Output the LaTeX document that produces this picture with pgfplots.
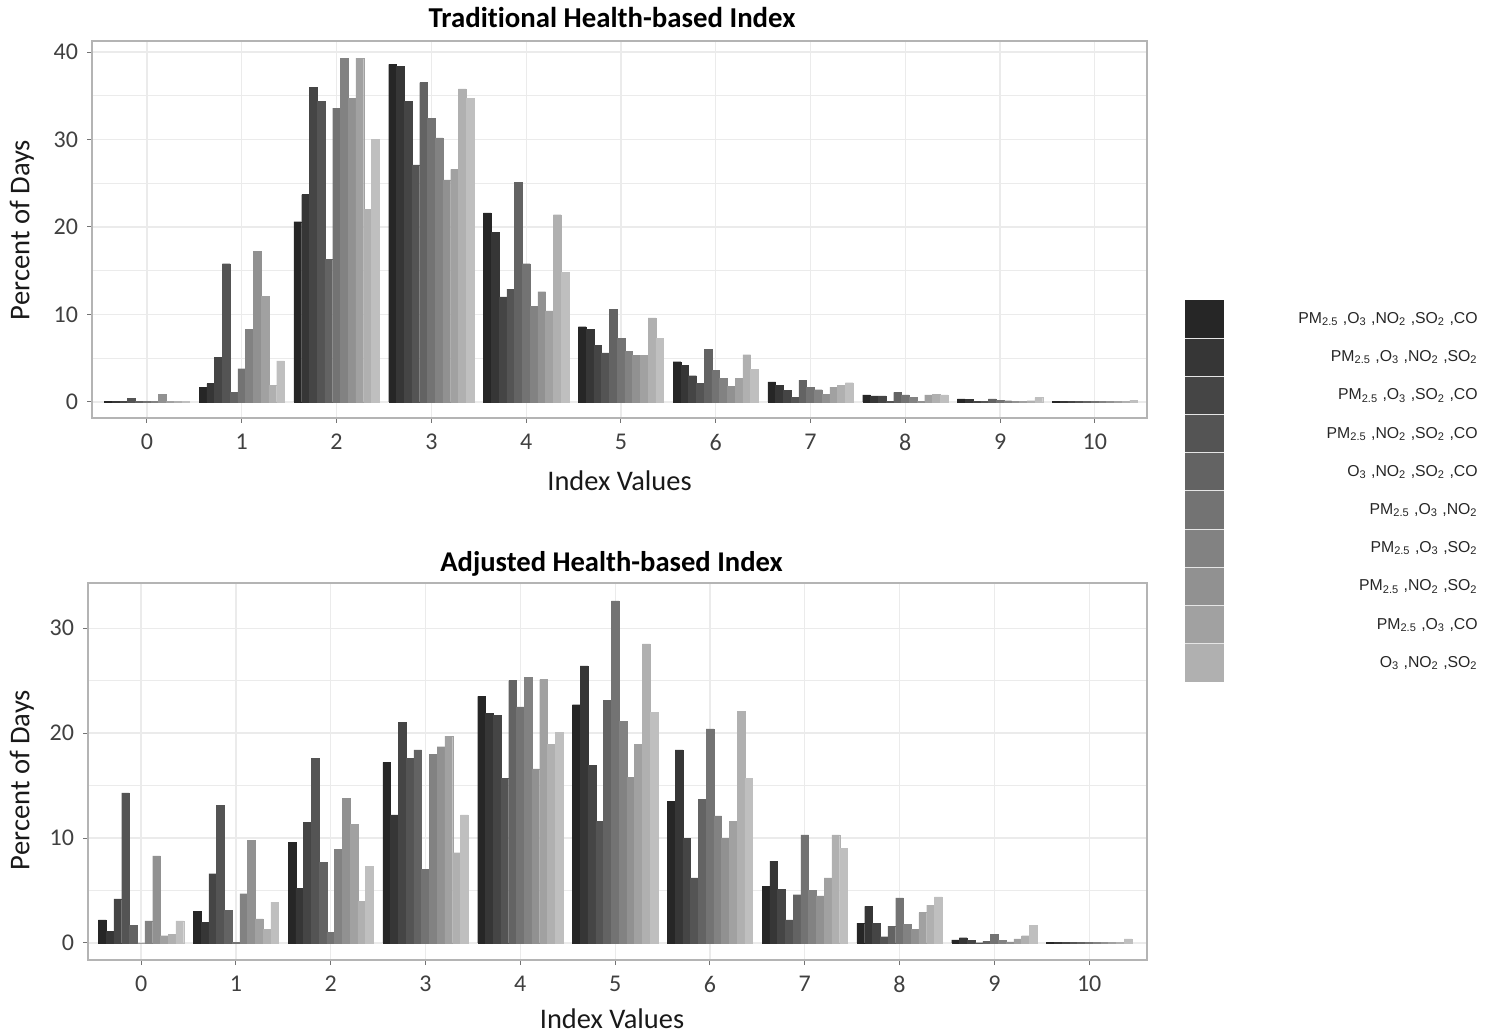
\documentclass[border=0pt]{standalone}
\usepackage{pgfplots}
\pgfplotsset{compat=1.18}
\usepackage{pgfplotstable}
\usepackage{fontspec}
\setmainfont{Carlito}[Ligatures={NoCommon}]
\newfontfamily\arial{Liberation Sans}

\definecolor{c0}{gray}{0.15}
\definecolor{c1}{gray}{0.21}
\definecolor{c2}{gray}{0.27}
\definecolor{c3}{gray}{0.33}
\definecolor{c4}{gray}{0.39}
\definecolor{c5}{gray}{0.45}
\definecolor{c6}{gray}{0.51}
\definecolor{c7}{gray}{0.57}
\definecolor{c8}{gray}{0.63}
\definecolor{c9}{gray}{0.69}
\definecolor{c10}{gray}{0.75}
\definecolor{gridc}{RGB}{235,235,235}
\definecolor{framec}{RGB}{180,180,180}

\pgfplotstableread{
idx b0 b1 b2 b3 b4 b5 b6 b7 b8 b9 b10
0 0.1 0.1 0.1 0.4 0.1 0.1 0.1 0.9 0.1 0.1 0.1
1 1.7 2.1 5.1 15.8 1.1 3.8 8.3 17.2 12.1 1.9 4.7
2 20.6 23.7 36.0 34.4 16.3 33.6 39.3 34.7 39.3 22.0 30.0
3 38.6 38.4 34.4 27.1 36.5 32.4 30.2 25.4 26.6 35.8 34.7
4 21.6 19.4 12.0 12.9 25.1 15.8 10.9 12.6 10.4 21.4 14.8
5 8.6 8.3 6.5 5.6 10.6 7.3 5.8 5.3 5.3 9.6 7.3
6 4.6 4.2 3.0 2.1 6.0 3.6 2.7 1.8 2.7 5.4 3.7
7 2.3 1.9 1.3 0.5 2.5 1.7 1.4 0.9 1.7 1.9 2.2
8 0.8 0.7 0.7 0.1 1.1 0.8 0.5 0.05 0.8 0.9 0.8
9 0.35 0.3 0.05 0.1 0.35 0.2 0.15 0.05 0.05 0.15 0.5
10 0.1 0.1 0.1 0.1 0.1 0.05 0.05 0.05 0.05 0.05 0.2
}\topdata

\pgfplotstableread{
idx b0 b1 b2 b3 b4 b5 b6 b7 b8 b9 b10
0 2.2 1.1 4.2 14.3 1.7 0.0 2.1 8.3 0.7 0.8 2.1
1 3.0 2.0 6.6 13.1 3.1 0.06 4.7 9.8 2.3 1.3 3.9
2 9.6 5.2 11.5 17.6 7.7 1.0 8.9 13.8 11.3 4.0 7.3
3 17.2 12.2 21.0 17.6 18.4 7.0 18.0 18.7 19.7 8.6 12.2
4 23.5 21.9 21.7 15.7 25.0 22.5 25.3 16.6 25.1 18.9 20.1
5 22.7 26.4 16.9 11.6 23.1 32.6 21.1 15.8 18.9 28.5 22.0
6 13.5 18.4 10.0 6.2 13.7 20.4 12.1 10.0 11.6 22.1 15.7
7 5.4 7.8 5.1 2.2 4.6 10.3 5.0 4.5 6.2 10.3 9.0
8 1.9 3.5 1.9 0.6 1.6 4.3 1.8 1.3 2.9 3.6 4.4
9 0.3 0.5 0.25 0.03 0.13 0.8 0.25 0.1 0.4 0.7 1.7
10 0.05 0.05 0.05 0.05 0.05 0.05 0.05 0.05 0.05 0.05 0.4
}\botdata

\pgfplotsset{
  panel/.style={
    scale only axis,
    anchor=south west,
    ybar=0pt,
    bar width=0.0818,
    xtick={0,1,2,3,4,5,6,7,8,9,10},
    grid=both,
    major grid style={draw=gridc, line width=0.6pt},
    minor grid style={draw=gridc, line width=0.3pt},
    axis line style={draw=framec, line width=0.6pt},
    tick align=outside,
    major tick length=2.5pt,
    minor tick length=0pt,
    tick style={draw=black!55, line width=0.5pt},
    xtick pos=bottom, ytick pos=left,
    /pgf/number format/assume math mode=true,
    tick label style={font=\fontsize{12}{14}\selectfont, text=black!75},
    yticklabel style={xshift=-1pt},
    xticklabel style={yshift=-2pt},
  }
}

\begin{document}
\begin{tikzpicture}[x=1pt,y=1pt]
\path (0,0) rectangle (746,516.5);

\begin{axis}[panel, at={(46pt,307.5pt)}, width=527.5pt, height=188.5pt,
  xmin=-0.58, xmax=10.55, ymin=-1.83, ymax=41.26,
  ytick={0,10,20,30,40}, minor ytick={5,15,25,35}]
\pgfplotsinvokeforeach{0,...,10}{
  \addplot[fill=c#1, draw=c#1, line width=0.15pt] table[x=idx, y=b#1]{\topdata};
}
\end{axis}

\begin{axis}[panel, at={(44pt,36.5pt)}, width=529.5pt, height=188.5pt,
  xmin=-0.56, xmax=10.61, ymin=-1.62, ymax=34.3,
  ytick={0,10,20,30}, minor ytick={5,15,25}]
\pgfplotsinvokeforeach{0,...,10}{
  \addplot[fill=c#1, draw=c#1, line width=0.15pt] table[x=idx, y=b#1]{\botdata};
}
\end{axis}

% titles and labels
\node[font=\bfseries\fontsize{14.4}{16}\selectfont] at (306,507.5) {Traditional Health-based Index};
\node[font=\bfseries\fontsize{14.3}{16}\selectfont] at (305.75,234.5) {Adjusted Health-based Index};
\node[font=\fontsize{14.2}{16}\selectfont, text=black!90] at (309.75,276) {Index Values};
\node[font=\fontsize{14.2}{16}\selectfont, text=black!90] at (306,7.2) {Index Values};
\node[font=\fontsize{14.3}{16}\selectfont, text=black!90, rotate=90] at (11,401.5) {Percent of Days};
\node[font=\fontsize{14.3}{16}\selectfont, text=black!90, rotate=90] at (11,126.5) {Percent of Days};

% legend
\foreach \i in {0,...,9}{
  \fill[c\i] (592.5,{366.5-19.1*\i}) rectangle (612,{366.5-19.1*(\i+1)});
}
\foreach \i in {1,...,9}{
  \draw[white!80!gray, line width=0.5pt] (592.5,{366.5-19.1*\i}) -- (612,{366.5-19.1*\i});
}
\begin{scope}[every node/.style={anchor=east, font=\arial\fontsize{7.9}{9}\selectfont, text=black!85, inner sep=0pt}]
\node at (739,{366.5-19.1*0.5}) {PM\textsubscript{2.5} ,O\textsubscript{3} ,NO\textsubscript{2} ,SO\textsubscript{2} ,CO};
\node at (739,{366.5-19.1*1.5}) {PM\textsubscript{2.5} ,O\textsubscript{3} ,NO\textsubscript{2} ,SO\textsubscript{2}};
\node at (739,{366.5-19.1*2.5}) {PM\textsubscript{2.5} ,O\textsubscript{3} ,SO\textsubscript{2} ,CO};
\node at (739,{366.5-19.1*3.5}) {PM\textsubscript{2.5} ,NO\textsubscript{2} ,SO\textsubscript{2} ,CO};
\node at (739,{366.5-19.1*4.5}) {O\textsubscript{3} ,NO\textsubscript{2} ,SO\textsubscript{2} ,CO};
\node at (739,{366.5-19.1*5.5}) {PM\textsubscript{2.5} ,O\textsubscript{3} ,NO\textsubscript{2}};
\node at (739,{366.5-19.1*6.5}) {PM\textsubscript{2.5} ,O\textsubscript{3} ,SO\textsubscript{2}};
\node at (739,{366.5-19.1*7.5}) {PM\textsubscript{2.5} ,NO\textsubscript{2} ,SO\textsubscript{2}};
\node at (739,{366.5-19.1*8.5}) {PM\textsubscript{2.5} ,O\textsubscript{3} ,CO};
\node at (739,{366.5-19.1*9.5}) {O\textsubscript{3} ,NO\textsubscript{2} ,SO\textsubscript{2}};
\end{scope}
\end{tikzpicture}
\end{document}
